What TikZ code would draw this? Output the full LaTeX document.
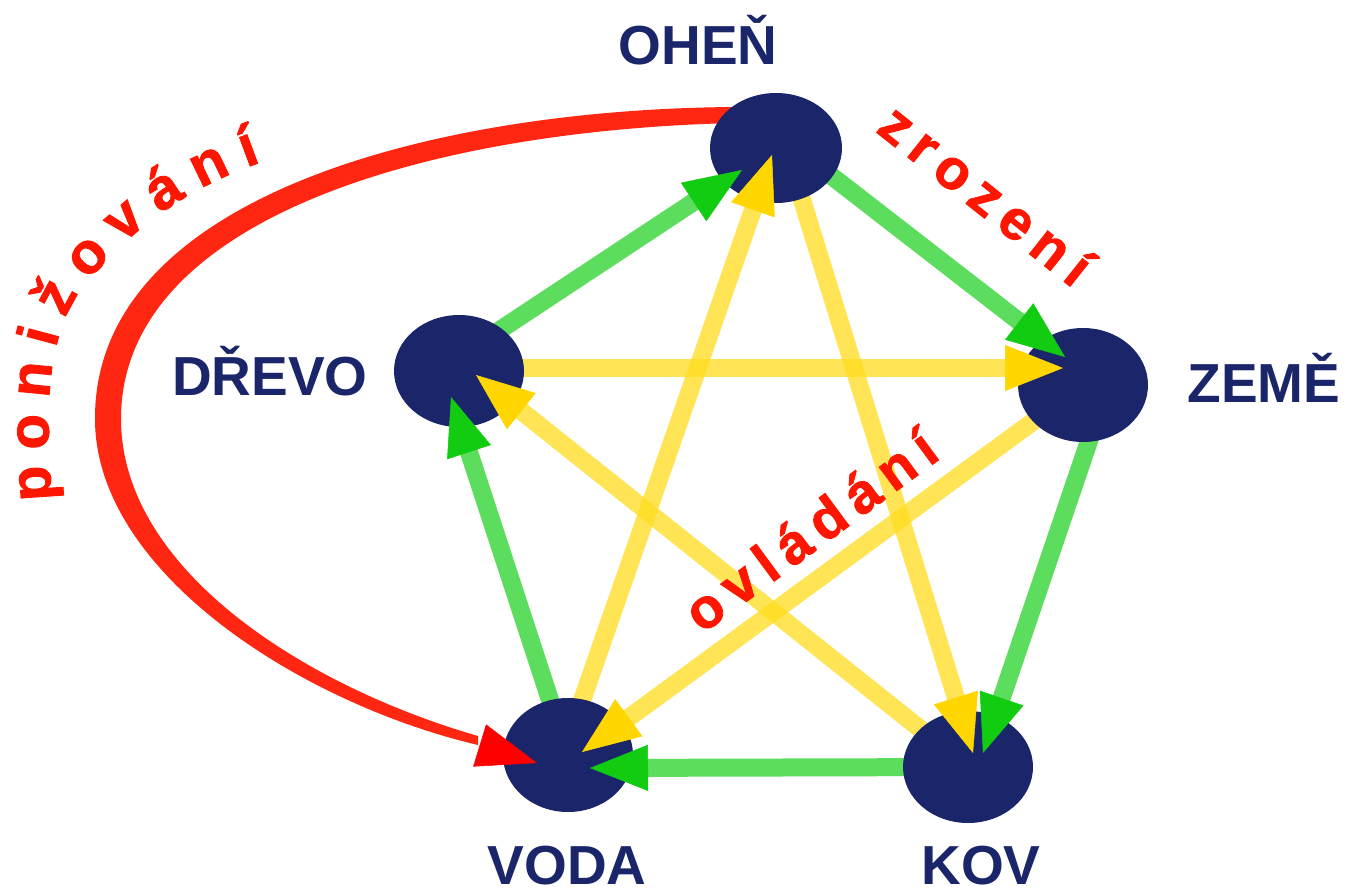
\documentclass[tikz,border=0pt]{standalone}
\usepackage{fontspec}
\setmainfont{Liberation Sans}
\newfontfamily\spacedfont[LetterSpace=18,FakeBold=1.5]{Liberation Sans}
\newfontfamily\arcfont[WordSpace=0.95,FakeBold=1.5]{Liberation Sans}
\usetikzlibrary{shapes.geometric,arrows.meta,calc,decorations.text}
\definecolor{navy}{RGB}{27,37,105}
\definecolor{redtxt}{RGB}{255,22,0}
\definecolor{redarc}{RGB}{255,38,18}
\definecolor{glinecol}{RGB}{40,210,40}
\definecolor{gheadcol}{RGB}{18,204,18}
\definecolor{ylinecol}{RGB}{255,220,30}
\definecolor{yheadcol}{RGB}{255,214,0}
\pgfdeclarelayer{bg}
\pgfdeclarelayer{fg}
\pgfsetlayers{bg,main,fg}
\begin{document}
\begin{tikzpicture}[x=1pt,y=-1pt,
  elem/.style={ellipse, fill=navy, inner sep=0pt, minimum width=130pt, minimum height=112pt},
  elabel/.style={text=navy, font=\fontsize{55}{55}\selectfont\bfseries, anchor=base, inner sep=0pt},
  rtext/.style={text=redtxt, font=\spacedfont\bfseries\fontsize{56}{56}\selectfont, anchor=base, inner sep=0pt},
  gconn/.style={draw=glinecol, line width=18pt, draw opacity=0.75, shorten >=30pt},
  yconn/.style={draw=ylinecol, line width=18pt, draw opacity=0.75, shorten >=30pt},
  ghead/.style={draw=gheadcol, fill=gheadcol, line width=0.5pt, -{Triangle[length=58pt,width=46pt]}},
  yhead/.style={draw=yheadcol, fill=yheadcol, line width=0.5pt, -{Triangle[length=58pt,width=46pt]}},
  rhead/.style={draw=red, fill=red, line width=0.5pt, -{Triangle[length=60pt,width=44pt]}}
]
\useasboundingbox (0,0) rectangle (1346,891);

% element nodes
\node[elem, minimum width=132pt, minimum height=110pt] (oh) at (776,148) {};
\node[elem] (dr) at (459,371) {};
\node[elem, minimum height=114pt] (ze) at (1083,385) {};
\node[elem, minimum height=114pt] (vo) at (568,755) {};
\node[elem] (ko) at (968,767) {};

% labels
\node[elabel] (l-oh) at (698,65) {OHEŇ};
\node[elabel] (l-dr) at (270,395) {DŘEVO};
\node[elabel] (l-ze) at (1264,402) {ZEMĚ};
\node[elabel] (l-vo) at (567,884) {VODA};
\node[elabel] (l-ko) at (981,884) {KOV};

% arrow tips
\coordinate (t-dr-oh) at (742,170);
\coordinate (t-oh-ze) at (1065,357);
\coordinate (t-ze-ko) at (983,753);
\coordinate (t-ko-vo) at (590,768);
\coordinate (t-vo-dr) at (451,397);
\coordinate (t-oh-ko) at (973,753);
\coordinate (t-ko-dr) at (476,375);
\coordinate (t-dr-ze) at (1063,368);
\coordinate (t-ze-vo) at (582,752);
\coordinate (t-vo-oh) at (772,155);
\coordinate (t-red) at (537,763);
\coordinate (arcend) at (478,745);

% start points
\coordinate (s-dr-oh) at ($(dr.center)+(0,-14)$);
\coordinate (s-oh-ze) at ($(oh.center)+(0,-15)$);
\coordinate (s-ze-ko) at ($(ze.center)+(25,0)$);
\coordinate (s-oh-ko) at ($(oh.center)+(10,0)$);
\coordinate (s-dr-ze) at ($(dr.center)+(0,-3)$);
\coordinate (s-vo-oh) at ($(vo.center)+(-5,0)$);

\begin{pgfonlayer}{bg}
  \fill[white] (0,0) rectangle (1346,891);
  % red arc (ponizovani)
  \fill[redarc] (735,107) .. controls (430,109) and (93,198) .. (95,420)
        .. controls (96,572) and (300,703) .. (arcend)
        -- (478,736) .. controls (305,686) and (122,570) .. (121,420)
        .. controls (120,218) and (430,130) .. (735,123) -- cycle;
  % green cycle
  \draw[gconn] (s-dr-oh) -- (t-dr-oh);
  \draw[gconn] (s-oh-ze) -- (t-oh-ze);
  \draw[gconn] (s-ze-ko) -- (t-ze-ko);
  \draw[gconn] (ko.center) -- (t-ko-vo);
  \draw[gconn] (vo.center) -- (t-vo-dr);
  % yellow star
  \draw[yconn] (s-oh-ko) -- (t-oh-ko);
  \draw[yconn] (ko.center) -- (t-ko-dr);
  \draw[yconn] (s-dr-ze) -- (t-dr-ze);
  \draw[yconn] (ze.center) -- (t-ze-vo);
  \draw[yconn] (s-vo-oh) -- (t-vo-oh);
\end{pgfonlayer}

\begin{pgfonlayer}{fg}
  \draw[ghead] ($(t-dr-oh)!58pt!(s-dr-oh)$) -- (t-dr-oh);
  \draw[ghead] ($(t-oh-ze)!58pt!(s-oh-ze)$) -- (t-oh-ze);
  \draw[ghead] ($(t-ze-ko)!58pt!(s-ze-ko)$) -- (t-ze-ko);
  \draw[ghead] ($(t-ko-vo)!58pt!(ko.center)$) -- (t-ko-vo);
  \draw[ghead] ($(t-vo-dr)!58pt!(vo.center)$) -- (t-vo-dr);
  \draw[yhead] ($(t-oh-ko)!58pt!(s-oh-ko)$) -- (t-oh-ko);
  \draw[yhead] ($(t-ko-dr)!58pt!(ko.center)$) -- (t-ko-dr);
  \draw[yhead] ($(t-dr-ze)!58pt!(s-dr-ze)$) -- (t-dr-ze);
  \draw[yhead] ($(t-ze-vo)!58pt!(ze.center)$) -- (t-ze-vo);
  \draw[yhead] ($(t-vo-oh)!58pt!(s-vo-oh)$) -- (t-vo-oh);
  \draw[rhead] ($(t-red)!60pt!(arcend)$) -- (t-red);
\end{pgfonlayer}

% red texts
\node[rtext, rotate=-38.5] (zr) at (974,210) {zrození};
\node[rtext, rotate=36.4] (ov) at (822,546) {ovládání};
\path[decorate, decoration={text along path,
    text={|\arcfont\bfseries\fontsize{58}{58}\selectfont\color{redtxt}|p o n i ž o v á n í}}]
  (52,500) .. controls (44,400) and (48,330) .. (85,285)
  .. controls (130,230) and (190,180) .. (300,150);
\end{tikzpicture}
\end{document}
